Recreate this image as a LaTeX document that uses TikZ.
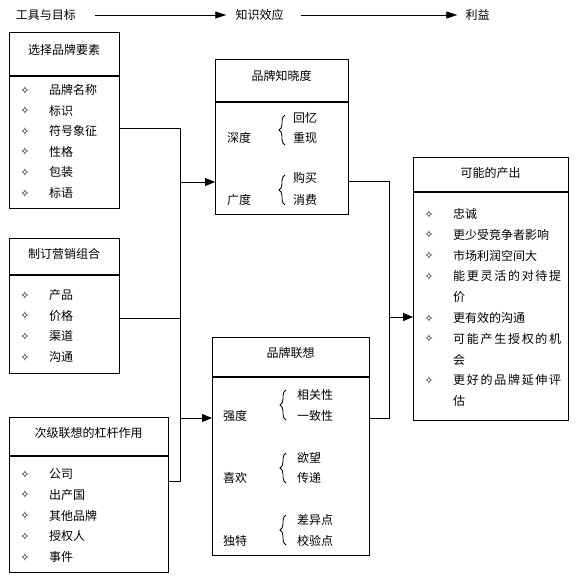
\documentclass[tikz,border=0pt]{standalone}
\usepackage{fontspec}
\newfontfamily\cjk{Noto Sans CJK SC}
\newfontfamily\symf{DejaVu Sans}
\usetikzlibrary{arrows.meta,decorations.pathreplacing,calc}
\begin{document}
\begin{tikzpicture}[x=1pt,y=-1pt,
 box/.style={draw, line width=1.1pt, inner sep=0pt, anchor=north west},
 dv/.style={line width=1.1pt},
 ln/.style={line width=0.9pt},
 arr/.style={ln,-{Triangle[length=10pt,width=8pt]}},
 tarr/.style={line width=0.8pt,-{Triangle[length=11pt,width=7pt]}},
 tx/.style={inner sep=0pt, font=\cjk\fontsize{12}{14}\selectfont},
 it/.style={tx, anchor=west},
 bul/.style={inner sep=0pt, font=\symf\fontsize{11}{12}\selectfont},
 br/.style={decorate, decoration={brace, amplitude=6pt}, line width=0.8pt},
]
\useasboundingbox (0,0) rectangle (586,583);

% top row
\node[tx] (t1) at (46,15) {工具与目标};
\node[tx] (t2) at (259.5,15) {知识效应};
\node[tx] (t3) at (477.5,15) {利益};
\draw[tarr, shorten <=19pt, shorten >=9pt] (t1) -- (t2);
\draw[tarr, shorten <=17pt, shorten >=8pt] (t2) -- (t3);

% boxes
\node[box, minimum width=110pt, minimum height=176pt] (b1) at (9,32) {};
\node[box, minimum width=110pt, minimum height=135pt] (b2) at (9,238) {};
\node[box, minimum width=159pt, minimum height=155pt] (b3) at (9,417) {};
\node[box, minimum width=133pt, minimum height=155pt] (aw) at (215,59) {};
\node[box, minimum width=157pt, minimum height=218pt] (as) at (212,337) {};
\node[box, minimum width=155pt, minimum height=263pt] (out) at (413,157) {};

% dividers
\draw[dv] ($(b1.north west)+(0,44)$) -- ($(b1.north east)+(0,44)$);
\draw[dv] ($(b2.north west)+(0,37)$) -- ($(b2.north east)+(0,37)$);
\draw[dv] ($(b3.north west)+(0,39)$) -- ($(b3.north east)+(0,39)$);
\draw[dv] ($(aw.north west)+(0,43)$) -- ($(aw.north east)+(0,43)$);
\draw[dv] ($(as.north west)+(0,40)$) -- ($(as.north east)+(0,40)$);
\draw[dv] ($(out.north west)+(0,35)$) -- ($(out.north east)+(0,35)$);

% titles
\node[tx] (b1h) at (64,50) {选择品牌要素};
\node[tx] (b2h) at (64,254) {制订营销组合};
\node[tx] (b3h) at (88.5,433) {次级联想的杠杆作用};
\node[tx] (awh) at (281.5,76) {品牌知晓度};
\node[tx] (ash) at (290.5,353) {品牌联想};
\node[tx] (outh) at (490.5,173) {可能的产出};

% box 1 items
\foreach \t [count=\i] in {品牌名称,标识,符号象征,性格,包装,标语} {
  \node[bul] (b1d\i) at (25,{90+(\i-1)*20.6}) {✧};
  \node[it] (b1t\i) at (49,{90+(\i-1)*20.6}) {\t};
}
% box 2 items
\foreach \t [count=\i] in {产品,价格,渠道,沟通} {
  \node[bul] (b2d\i) at (25,{295+(\i-1)*20.7}) {✧};
  \node[it] (b2t\i) at (49,{295+(\i-1)*20.7}) {\t};
}
% box 3 items
\foreach \t [count=\i] in {公司,出产国,其他品牌,授权人,事件} {
  \node[bul] (b3d\i) at (25,{474+(\i-1)*20.8}) {✧};
  \node[it] (b3t\i) at (49,{474+(\i-1)*20.8}) {\t};
}

% awareness contents
\node[it] (aw1) at (227,138) {深度};
\node[it] (aw2) at (227,200) {广度};
\node[it] (aw3) at (293,118) {回忆};
\node[it] (aw4) at (293,138) {重现};
\node[it] (aw5) at (293,178) {购买};
\node[it] (aw6) at (293,200) {消费};
\draw[br] (285,145) -- (285,115);
\draw[br] (285,205) -- (285,175);

% association contents
\node[it] (as1) at (223,416) {强度};
\node[it] (as2) at (223,478) {喜欢};
\node[it] (as3) at (223,541) {独特};
\node[it] (as4) at (297,395) {相关性};
\node[it] (as5) at (297,416) {一致性};
\node[it] (as6) at (297,458) {欲望};
\node[it] (as7) at (297,478) {传递};
\node[it] (as8) at (297,520) {差异点};
\node[it] (as9) at (297,541) {校验点};
\draw[br] (286,420) -- (286,390);
\draw[br] (286,483) -- (286,453);
\draw[br] (286,545) -- (286,515);

% outcomes
\foreach \k/\t in {0/忠诚,1/更少受竞争者影响,2/市场利润空间大,
  3/{\makebox[108pt]{能\hfill 更\hfill 灵\hfill 活\hfill 的\hfill 对\hfill 待\hfill 提}},
  4/价,5/更有效的沟通,
  6/{\makebox[108pt]{可\hfill 能\hfill 产\hfill 生\hfill 授\hfill 权\hfill 的\hfill 机}},
  7/会,
  8/{\makebox[108pt]{更\hfill 好\hfill 的\hfill 品\hfill 牌\hfill 延\hfill 伸\hfill 评}},
  9/估} {
  \node[it] (o\k) at (453,{214+\k*20.8}) {\t};
}
\foreach \k in {0,1,2,3,5,6,8} {
  \node[bul] (od\k) at (429,{214+\k*20.8}) {✧};
}

% connectors
\coordinate (j1) at (180,128);
\coordinate (j2) at (180,182);
\coordinate (j3) at (180,318);
\coordinate (j4) at (180,418);
\coordinate (j5) at (180,481);
\draw[ln] (b1.east |- j1) -- (j1) -- (j5) -- (b3.east |- j5);
\draw[ln] (b2.east |- j3) -- (j3);
\draw[arr] (j2) -- (j2 -| aw.west);
\draw[arr] (j4) -- (j4 -| as.west);

\coordinate (k1) at (389,181);
\coordinate (k2) at (389,317);
\coordinate (k3) at (389,418);
\draw[ln] (aw.east |- k1) -- (k1) -- (k3) -- (as.east |- k3);
\draw[arr] (k2) -- (k2 -| out.west);
\end{tikzpicture}
\end{document}
